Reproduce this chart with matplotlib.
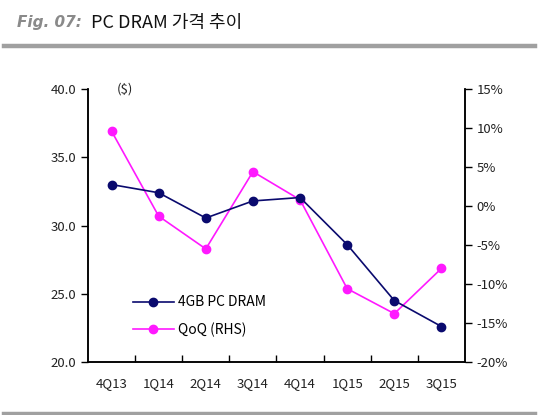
import matplotlib.pyplot as plt
from matplotlib.lines import Line2D

plt.rcParams['font.family'] = ['Noto Sans CJK KR', 'DejaVu Sans']

# data
quarters = ["4Q13", "1Q14", "2Q14", "3Q14", "4Q14", "1Q15", "2Q15", "3Q15"]
dram_price = [33.0, 32.4, 30.55, 31.8, 32.05, 28.6, 24.5, 22.6]
qoq = [9.6, -1.3, -5.5, 4.4, 0.8, -10.6, -13.8, -8.0]

navy = "#0A0A6E"
magenta = "#FF19FF"
txt = "#222222"
fs = 9.5

fig = plt.figure(figsize=(5.52, 4.15), dpi=100)
ax = fig.add_axes([0.1594, 0.1277, 0.6830, 0.6578])
ax2 = ax.twinx()

x = range(len(quarters))
ax.plot(x, dram_price, color=navy, lw=1.2, marker="o", ms=6, zorder=3)
ax2.plot(x, qoq, color=magenta, lw=1.2, marker="o", ms=6, zorder=2)
ax.set_zorder(ax2.get_zorder() + 1)
ax.patch.set_visible(False)

ax.set_xlim(-0.5, len(quarters) - 0.5)
ax.set_ylim(20, 40)
ax.set_yticks([20, 25, 30, 35, 40])
ax.set_yticklabels(["20.0", "25.0", "30.0", "35.0", "40.0"])
ax2.set_ylim(-20, 15)
ax2.set_yticks(range(-20, 16, 5))
ax2.set_yticklabels([f"{v}%" for v in range(-20, 16, 5)])

# category labels between ticks
ax.set_xticks([i + 0.5 for i in range(len(quarters) - 1)])
ax.set_xticklabels([])
ax.set_xticks(list(x), minor=True)
ax.set_xticklabels(quarters, minor=True)
ax.tick_params(axis="x", which="major", direction="in", length=5, width=1)
ax.tick_params(axis="x", which="minor", length=0, pad=11, labelsize=fs, labelcolor=txt)
ax.tick_params(axis="y", direction="out", length=5, width=1, labelsize=fs, labelcolor=txt)
ax2.tick_params(axis="y", direction="out", length=5, width=1, labelsize=fs, labelcolor=txt)

for a in (ax, ax2):
    a.spines["top"].set_visible(False)
    for s in ("left", "right", "bottom"):
        a.spines[s].set_linewidth(1.1)

ax.text(0.1, 40, "($)", fontsize=fs, color=txt, va="center")

handles = [Line2D([], [], color=navy, lw=1.2, marker="o", ms=6),
           Line2D([], [], color=magenta, lw=1.2, marker="o", ms=6)]
ax.legend(handles, ["4GB PC DRAM", "QoQ (RHS)"], loc="lower left",
          bbox_to_anchor=(0.085, 0.045), frameon=False, fontsize=10,
          handlelength=3.0, handletextpad=0.3, labelspacing=0.95)

# title and rules
fig.text(0.03, 0.945, "Fig. 07:", fontsize=11, style="italic", weight="bold",
         color="#8A8A8A", family=["DejaVu Sans"], va="center")
fig.text(0.165, 0.945, "PC DRAM 가격 추이", fontsize=13, color="#111111", va="center")
fig.add_artist(Line2D([0.007, 0.969], [0.890, 0.890], color="#A0A0A0", lw=3.2))
fig.add_artist(Line2D([0.007, 0.969], [0.003, 0.003], color="#A0A0A0", lw=3.2))

fig.savefig("out.png", dpi=100)
